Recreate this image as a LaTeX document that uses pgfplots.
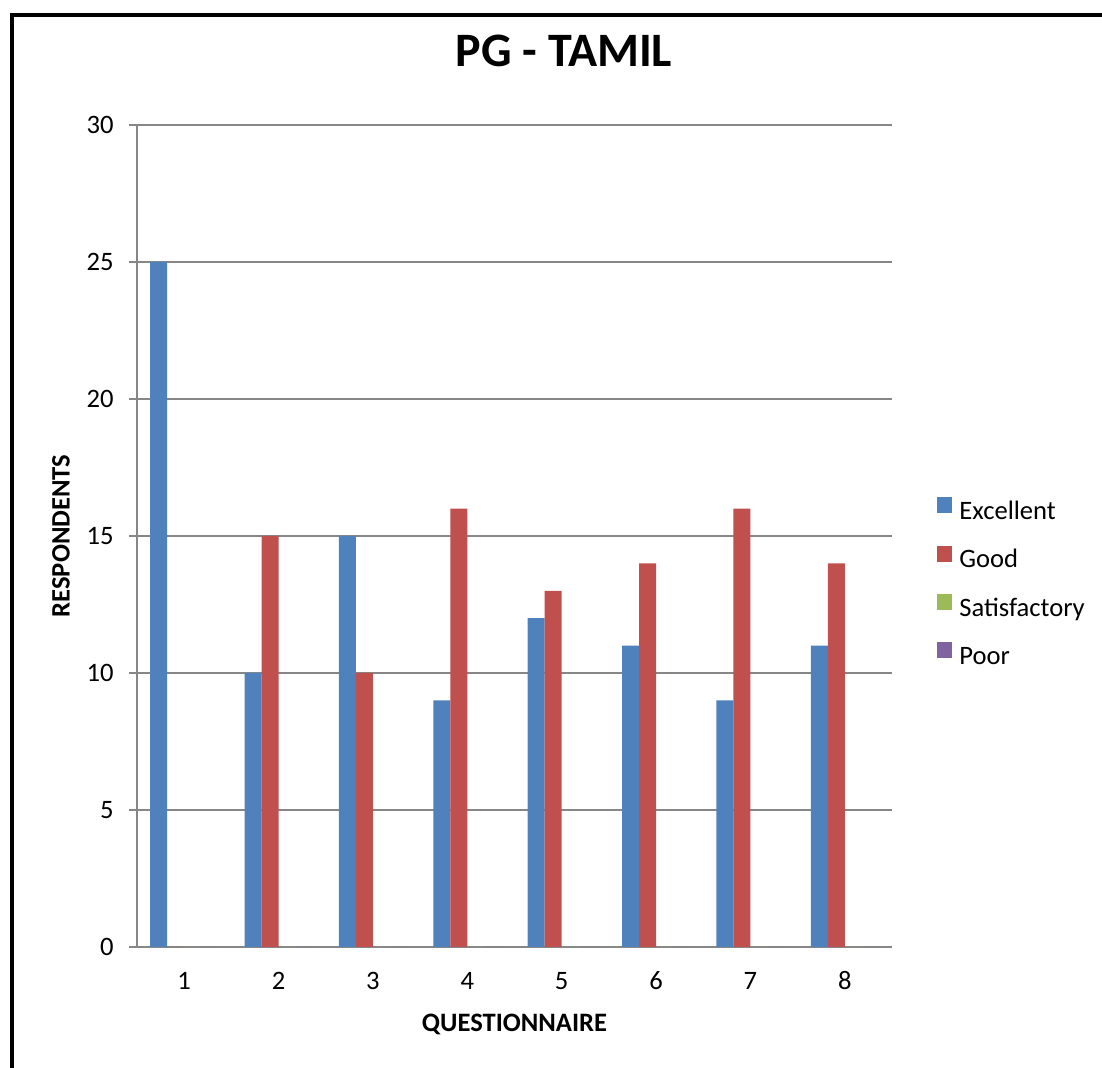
\documentclass[border=0pt]{standalone}
\usepackage{fontspec}
\setmainfont{Carlito}
\usepackage{pgfplots}
\pgfplotsset{compat=1.18}

\definecolor{exc}{HTML}{4F81BD}
\definecolor{good}{HTML}{C0504D}
\definecolor{sat}{HTML}{9BBB59}
\definecolor{poor}{HTML}{8064A2}
\definecolor{gridgray}{HTML}{878787}

\begin{document}
\begin{tikzpicture}
% page: 1102x1068 px at 0.5pt per px
\useasboundingbox (0,0) rectangle (551pt,534pt);
\draw[line width=2pt] (6pt,-5pt) -- (6pt,526.5pt) -- (560pt,526.5pt);
\begin{axis}[
    at={(68.5pt,60.5pt)}, anchor=south west,
    scale only axis,
    width=377.5pt, height=411pt,
    ybar=0pt, bar width=8.5pt,
    xmin=0.5, xmax=8.5,
    ymin=0, ymax=30,
    xtick={1,...,8},
    ytick={0,5,...,30},
    axis x line*=bottom, axis y line*=left,
    axis line style={gridgray, line width=1pt, -},
    ymajorgrids,
    grid style={gridgray, line width=1pt},
    tick align=outside,
    major tick length=4pt,
    xtick style={draw=none},
    ytick style={gridgray, line width=1pt},
    /pgf/number format/assume math mode=true,
    tick label style={font=\fontsize{13.3}{16}\selectfont},
    xticklabel style={anchor=base, yshift=-17.5pt, inner sep=0pt},
    yticklabel style={anchor=east, inner sep=0pt, xshift=-7.5pt},
    title={PG - TAMIL},
    title style={font=\fontsize{24}{29}\selectfont\bfseries, anchor=base,
        at={(axis description cs:0.5655,1.056)}},
    xlabel={QUESTIONNAIRE},
    xlabel style={font=\fontsize{13.3}{16}\selectfont\bfseries, anchor=base,
        at={(axis description cs:0.5,-0.1022)}},
    ylabel={RESPONDENTS},
    ylabel style={font=\fontsize{13.3}{16}\selectfont\bfseries, anchor=center,
        at={(axis description cs:-0.1007,0.5)}},
    legend style={at={(axis description cs:1.0596,0.4422)}, anchor=west,
        draw=none, fill=none, inner sep=0pt, row sep=10.3pt,
        font=\fontsize{13.3}{16}\selectfont,
        nodes={inner sep=0pt, text height=9pt, text depth=2.7pt},
        /tikz/every odd column/.style={column sep=3.5pt}},
    legend image code/.code={\fill[#1] (0pt,0pt) rectangle (7.5pt,8pt);},
    legend cell align=left,
]
\addplot[fill=exc, draw=none] coordinates {(1,25) (2,10) (3,15) (4,9) (5,12) (6,11) (7,9) (8,11)};
\addplot[fill=good, draw=none] coordinates {(1,0) (2,15) (3,10) (4,16) (5,13) (6,14) (7,16) (8,14)};
\addplot[fill=sat, draw=none] coordinates {(1,0) (2,0) (3,0) (4,0) (5,0) (6,0) (7,0) (8,0)};
\addplot[fill=poor, draw=none] coordinates {(1,0) (2,0) (3,0) (4,0) (5,0) (6,0) (7,0) (8,0)};
\legend{Excellent, Good, Satisfactory, Poor}
\end{axis}
\end{tikzpicture}
\end{document}
